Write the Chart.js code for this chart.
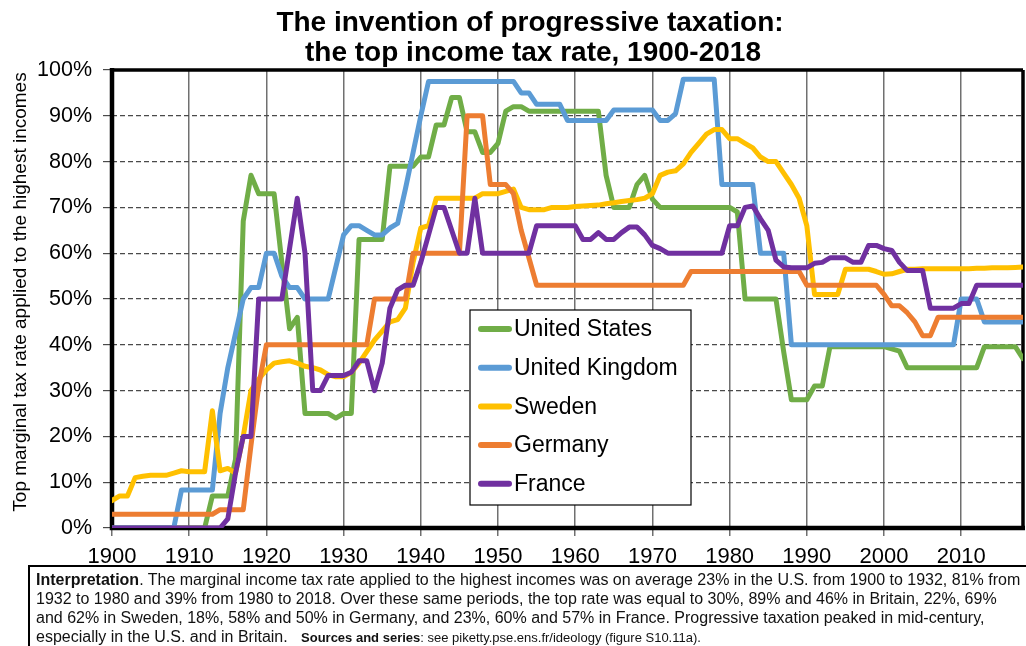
<!DOCTYPE html>
<html>
<head>
<meta charset="utf-8">
<title>Top income tax rate, 1900-2018</title>
<script src="https://cdn.jsdelivr.net/npm/chart.js@4.4.1/dist/chart.umd.min.js"></script>
<style>
  html, body { margin: 0; padding: 0; background: #fff; }
  #wrap { position: relative; width: 1026px; height: 646px; overflow: hidden; }
  #c { position: absolute; left: 0; top: 0; }
  .note {
    position: absolute; left: 28px; top: 565px; width: 1010px; height: 90px;
    border-left: 2px solid #000; border-top: 2px solid #000;
    padding: 3px 0 0 6px;
    font: 16px/19px "Liberation Sans", Arial, sans-serif; color: #111;
    white-space: nowrap;
  }
  .note .src { font-size: 13px; }
</style>
</head>
<body>
<div id="wrap">
  <canvas id="c" width="1026" height="566"></canvas>
  <div class="note">
    <b>Interpretation</b>. The marginal income tax rate applied to the highest incomes was on average 23% in the U.S. from 1900 to 1932, 81% from<br>
    1932 to 1980 and 39% from 1980 to 2018. Over these same periods, the top rate was equal to 30%, 89% and 46% in Britain, 22%, 69%<br>
    and 62% in Sweden, 18%, 58% and 50% in Germany, and 23%, 60% and 57% in France. Progressive taxation peaked in mid-century,<br>
    especially in the U.S. and in Britain. &nbsp;&nbsp;<span class="src"><b>Sources and series</b>: see piketty.pse.ens.fr/ideology (figure S10.11a).</span>
  </div>
</div>
<script>
const FONT = '"Liberation Sans", Arial, sans-serif';

const titleLines = ['The invention of progressive taxation:', 'the top income tax rate, 1900-2018'];
const yTitle = 'Top marginal tax rate applied to the highest incomes';
const seriesNames = ['United States', 'United Kingdom', 'Sweden', 'Germany', 'France'];

const years = [
  1900,1901,1902,1903,1904,1905,1906,1907,1908,1909,
  1910,1911,1912,1913,1914,1915,1916,1917,1918,1919,
  1920,1921,1922,1923,1924,1925,1926,1927,1928,1929,
  1930,1931,1932,1933,1934,1935,1936,1937,1938,1939,
  1940,1941,1942,1943,1944,1945,1946,1947,1948,1949,
  1950,1951,1952,1953,1954,1955,1956,1957,1958,1959,
  1960,1961,1962,1963,1964,1965,1966,1967,1968,1969,
  1970,1971,1972,1973,1974,1975,1976,1977,1978,1979,
  1980,1981,1982,1983,1984,1985,1986,1987,1988,1989,
  1990,1991,1992,1993,1994,1995,1996,1997,1998,1999,
  2000,2001,2002,2003,2004,2005,2006,2007,2008,2009,
  2010,2011,2012,2013,2014,2015,2016,2017,2018
];

// top marginal rates, %
const usRate = [
  0,0,0,0,0,0,0,0,0,0,
  0,0,0,7,7,7,15,67,77,73,
  73,73,58,43.5,46,25,25,25,25,24,
  25,25,63,63,63,63,79,79,79,79,
  81,81,88,88,94,94,86.5,86.5,82,82,
  84,91,92,92,91,91,91,91,91,91,
  91,91,91,91,77,70,70,70,75,77,
  71.8,70,70,70,70,70,70,70,70,70,
  70,69,50,50,50,50,50,38.5,28,28,
  28,31,31,39.6,39.6,39.6,39.6,39.6,39.6,39.6,
  39.6,39.1,38.6,35,35,35,35,35,35,35,
  35,35,35,39.6,39.6,39.6,39.6,39.6,37
];
const ukRate = [
  0,0,0,0,0,0,0,0,0,8.3,
  8.3,8.3,8.3,8.3,25,35,42.5,50,52.5,52.5,
  60,60,55,52.5,52.5,50,50,50,50,57,
  64,66,66,65,64,64,65.5,66.5,74,82,
  90,97.5,97.5,97.5,97.5,97.5,97.5,97.5,97.5,97.5,
  97.5,97.5,97.5,95,95,92.5,92.5,92.5,92.5,89,
  89,89,89,89,89,91.25,91.25,91.25,91.25,91.25,
  91.25,89,89,90.5,98,98,98,98,98,75,
  75,75,75,75,60,60,60,60,40,40,
  40,40,40,40,40,40,40,40,40,40,
  40,40,40,40,40,40,40,40,40,40,
  50,50,50,45,45,45,45,45,45
];
const seRate = [
  6,7,7,11,11.3,11.5,11.5,11.5,12,12.5,
  12.3,12.3,12.3,25.6,12.5,13,12,20,30,32.5,
  34.5,36,36.3,36.5,36,35.3,35,34.5,33.5,33,
  33,34,36,38.5,41,43,45,45.5,48,58,
  65.5,66,72,72,72,72,72,72,73,73,
  73,73.5,74,70,69.5,69.5,69.5,70,70,70,
  70.2,70.3,70.4,70.5,70.8,71,71.3,71.5,71.7,72,
  73,77,77.7,78,79.5,82,84,86,87,87,
  85,85,84,83,81,80,80,77.5,75,72,
  66,51,51,51,51,56.5,56.5,56.5,56.5,56,
  55.4,55.5,56,56.5,56.5,56.6,56.6,56.6,56.6,56.6,
  56.6,56.6,56.7,56.7,56.8,56.8,56.8,56.9,57
];
const deRate = [
  3,3,3,3,3,3,3,3,3,3,
  3,3,3,3,4,4,4,4,18,31,
  40,40,40,40,40,40,40,40,40,40,
  40,40,40,40,50,50,50,50,50,60,
  60,60,60,60,60,60,90,90,90,75,
  75,75,73,65,59,53,53,53,53,53,
  53,53,53,53,53,53,53,53,53,53,
  53,53,53,53,53,56,56,56,56,56,
  56,56,56,56,56,56,56,56,56,56,
  53,53,53,53,53,53,53,53,53,53,
  51,48.5,48.5,47,45,42,42,46,46,46,
  46,46,46,46,46,46,46,46,46
];
const frRate = [
  0,0,0,0,0,0,0,0,0,0,
  0,0,0,0,0,2,12,20,20,50,
  50,50,50,61,72,60,30,30,33.3,33.3,
  33.3,34,36.5,36.5,30,36,48,52,53,53,
  58,64,70,70,65,60,60,72,60,60,
  60,60,60,60,60,66,66,66,66,66,
  66,63,63,64.5,63,63,64.5,65.7,65.7,64,
  61.7,61,60,60,60,60,60,60,60,60,
  66,66,70,70.3,67.5,65,58.5,57,56.8,56.8,
  56.8,57.8,58,59,59,59,58,58,61.7,61.7,
  61,60.6,58,56.2,56.2,56.2,48,48,48,48,
  49,49,53,53,53,53,53,53,53
];

const colors = ['#70AD47', '#5B9BD5', '#FFC000', '#ED7D31', '#7030A0'];
const allRates = [usRate, ukRate, seRate, deRate, frRate];

function toPoints(vals) {
  return years.map((yr, i) => ({ x: yr, y: vals[i] }));
}

// plot frame: thick black axes plus thinner top / right edges
const framePlugin = {
  id: 'frame',
  beforeDatasetsDraw(chart) {
    const ctx = chart.ctx, a = chart.chartArea;
    ctx.save();
    ctx.strokeStyle = '#000';
    ctx.lineWidth = 3.5;
    ctx.beginPath();
    ctx.moveTo(a.left, a.top); ctx.lineTo(a.right, a.top);
    ctx.moveTo(a.right, a.top); ctx.lineTo(a.right, a.bottom);
    ctx.stroke();
    ctx.lineWidth = 4.5;
    ctx.beginPath();
    ctx.moveTo(a.left, a.top - 2); ctx.lineTo(a.left, a.bottom);
    ctx.lineTo(a.right + 2, a.bottom);
    ctx.stroke();
    ctx.restore();
  }
};

// title, tick labels, axis title and the boxed legend inside the plot
const textPlugin = {
  id: 'texts',
  afterDraw(chart) {
    const ctx = chart.ctx;
    const xs = chart.scales.x, ys = chart.scales.y;
    ctx.save();
    ctx.fillStyle = '#000';

    ctx.font = 'bold 28px ' + FONT;
    ctx.textAlign = 'center';
    ctx.textBaseline = 'alphabetic';
    ctx.fillText(titleLines[0], 530, 31);
    ctx.fillText(titleLines[1], 533, 61);

    ctx.font = '21.5px ' + FONT;
    ctx.textAlign = 'right';
    ctx.textBaseline = 'middle';
    ys.ticks.forEach(t => {
      ctx.fillText(t.value + '%', 92, ys.getPixelForValue(t.value));
    });

    ctx.font = '22px ' + FONT;
    ctx.textAlign = 'center';
    ctx.textBaseline = 'alphabetic';
    xs.ticks.forEach(t => {
      if (t.value % 10 === 0) ctx.fillText(String(t.value), xs.getPixelForValue(t.value), 563);
    });

    ctx.save();
    ctx.translate(21, 292);
    ctx.rotate(-Math.PI / 2);
    ctx.font = '19px ' + FONT;
    ctx.textBaseline = 'middle';
    ctx.fillText(yTitle, 0, 0);
    ctx.restore();

    // legend box
    const lx = 470, ly = 310, lw = 221, lh = 195;
    ctx.fillStyle = '#fff';
    ctx.fillRect(lx, ly, lw, lh);
    ctx.strokeStyle = '#000';
    ctx.lineWidth = 1.2;
    ctx.strokeRect(lx, ly, lw, lh);
    ctx.font = '23px ' + FONT;
    ctx.textAlign = 'left';
    ctx.textBaseline = 'middle';
    chart.data.datasets.forEach((ds, i) => {
      const yy = ly + 19 + i * 38.7;
      ctx.strokeStyle = ds.borderColor;
      ctx.lineWidth = 6;
      ctx.lineCap = 'round';
      ctx.beginPath();
      ctx.moveTo(481, yy); ctx.lineTo(509, yy);
      ctx.stroke();
      ctx.fillStyle = '#000';
      ctx.fillText(ds.label, 514, yy + 1);
    });
    ctx.restore();
  }
};

const datasets = seriesNames.map((name, i) => ({
  label: name,
  data: toPoints(allRates[i]),
  borderColor: colors[i],
  backgroundColor: colors[i],
  borderWidth: 5,
  pointRadius: 0,
  tension: 0,
  fill: false,
  borderJoinStyle: 'round',
  borderCapStyle: 'round',
  order: seriesNames.length - i
}));

new Chart(document.getElementById('c').getContext('2d'), {
  type: 'line',
  data: { datasets: datasets },
  options: {
    responsive: false,
    animation: false,
    layout: { padding: { left: 0, right: 3, top: 70, bottom: 0 } },
    plugins: {
      legend: { display: false },
      title: { display: false },
      tooltip: { enabled: false }
    },
    scales: {
      x: {
        type: 'linear',
        min: 1900,
        max: 2018,
        afterFit: function (s) { s.height = 38; },
        ticks: { display: false, stepSize: 10, includeBounds: false },
        grid: { color: '#707070', lineWidth: 1.5, tickLength: 8 },
        border: { display: false }
      },
      y: {
        min: 0,
        max: 100,
        afterFit: function (s) { s.width = 112; },
        ticks: { display: false, stepSize: 10 },
        grid: { color: '#4a4a4a', lineWidth: 1.2, tickLength: 9 },
        border: { display: false, dash: [5, 3] }
      }
    }
  },
  plugins: [framePlugin, textPlugin]
});
</script>
</body>
</html>
